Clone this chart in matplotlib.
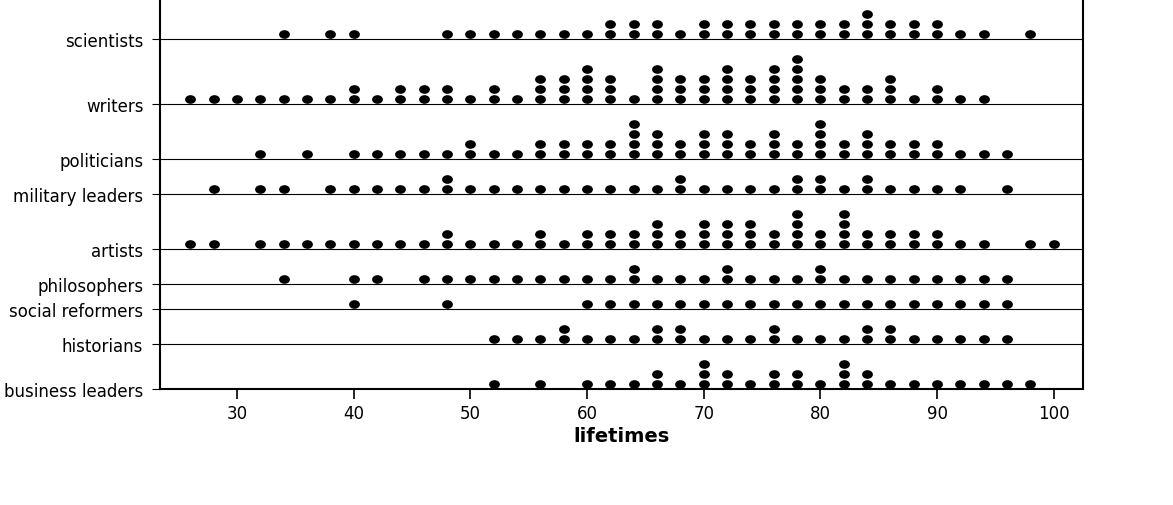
import numpy as np
import matplotlib
matplotlib.use("Agg")
import matplotlib.pyplot as plt
from matplotlib.path import Path
from matplotlib.transforms import Affine2D
from collections import Counter

# lifetimes per group (one entry per person)
scientists = [34, 38, 40, 48, 50, 52, 54, 56, 58, 60, 62, 62, 64, 64, 66, 66, 68,
              70, 70, 72, 72, 74, 74, 76, 76, 78, 78, 80, 80, 82, 82, 84, 84, 84,
              86, 86, 88, 88, 90, 90, 92, 94, 98]
writers = [26, 28, 30, 32, 34, 36, 38, 40, 40, 42, 44, 44, 46, 46, 48, 48, 50,
           52, 52, 54, 56, 56, 56, 58, 58, 58, 60, 60, 60, 60, 62, 62, 62, 64,
           66, 66, 66, 66, 68, 68, 68, 70, 70, 70, 72, 72, 72, 72, 74, 74, 74,
           76, 76, 76, 76, 78, 78, 78, 78, 78, 80, 80, 80, 82, 82, 84, 84,
           86, 86, 86, 88, 90, 90, 92, 94]
politicians = [32, 36, 40, 42, 44, 46, 48, 50, 50, 52, 54, 56, 56, 58, 58, 60, 60,
               62, 62, 64, 64, 64, 64, 66, 66, 66, 68, 68, 70, 70, 70, 72, 72, 72,
               74, 74, 76, 76, 76, 78, 78, 80, 80, 80, 80, 82, 82, 84, 84, 84,
               86, 86, 88, 88, 90, 90, 92, 94, 96]
military_leaders = [28, 32, 34, 38, 40, 42, 44, 46, 48, 48, 50, 52, 54, 56, 58, 60,
                    62, 64, 66, 68, 68, 70, 72, 74, 76, 78, 78, 80, 80, 82, 84, 84,
                    86, 88, 90, 92, 96]
artists = [26, 28, 32, 34, 36, 38, 40, 42, 44, 46, 48, 48, 50, 52, 54, 56, 56, 58,
           60, 60, 62, 62, 64, 64, 66, 66, 66, 68, 68, 70, 70, 70, 72, 72, 72,
           74, 74, 74, 76, 76, 78, 78, 78, 78, 80, 80, 82, 82, 82, 82, 84, 84,
           86, 86, 88, 88, 90, 90, 92, 94, 98, 100]
philosophers = [34, 40, 42, 46, 48, 50, 52, 54, 56, 58, 60, 62, 64, 64, 66, 68, 70,
                72, 72, 74, 76, 78, 80, 80, 82, 84, 86, 88, 90, 92, 94, 96]
social_reformers = [40, 48, 60, 62, 64, 66, 68, 70, 72, 74, 76, 78, 80, 82, 84, 86,
                    88, 90, 92, 94, 96]
historians = [52, 54, 56, 58, 58, 60, 62, 64, 66, 66, 68, 68, 70, 72, 74, 76, 76,
              78, 80, 82, 84, 84, 86, 86, 88, 90, 92, 94, 96]
business_leaders = [52, 56, 60, 62, 64, 66, 66, 68, 70, 70, 70, 72, 72, 74, 76, 76,
                    78, 78, 80, 82, 82, 82, 84, 84, 86, 88, 90, 92, 94, 96, 98]

groups = ["business leaders", "historians", "social reformers", "philosophers",
          "artists", "military leaders", "politicians", "writers", "scientists"]
group_data = [business_leaders, historians, social_reformers, philosophers,
              artists, military_leaders, politicians, writers, scientists]

xticks = [30, 40, 50, 60, 70, 80, 90, 100]

# slightly flattened dot like the original
dot = Path.unit_circle().transformed(Affine2D().scale(1.0, 0.8))

fig = plt.figure(figsize=(11.73, 5.06), dpi=100)
ax = fig.add_axes([160 / 1173, 116 / 506, 923 / 1173, 395 / 506])

base = 0.0
bases = []
for name, vals in zip(groups, group_data):
    counts = Counter(vals)
    xs, ys = [], []
    for v, n in sorted(counts.items()):
        for k in range(n):
            xs.append(v)
            ys.append(base + 0.5 + k)
    ax.plot(xs, ys, linestyle="none", marker=dot, markersize=7.8,
            color="black", markeredgewidth=0)
    bases.append(base)
    ax.axhline(base, color="black", linewidth=0.8, zorder=1)
    base += max(counts.values()) + 1.5

ax.set_xlim(23.4, 102.5)
ax.set_ylim(0, base)

ax.set_yticks(bases)
ax.set_yticklabels(groups, fontsize=12)
ax.set_xticks(xticks)
ax.set_xticklabels([str(t) for t in xticks], fontsize=12)
ax.tick_params(axis="y", length=6, width=0.8, pad=6)
ax.tick_params(axis="x", length=7, width=1.2, pad=4)

ax.spines["top"].set_visible(False)
for s in ["left", "right", "bottom"]:
    ax.spines[s].set_linewidth(1.5)

ax.set_xlabel("lifetimes", fontsize=14, fontweight="bold", labelpad=3)

fig.savefig("out.png", dpi=100)
